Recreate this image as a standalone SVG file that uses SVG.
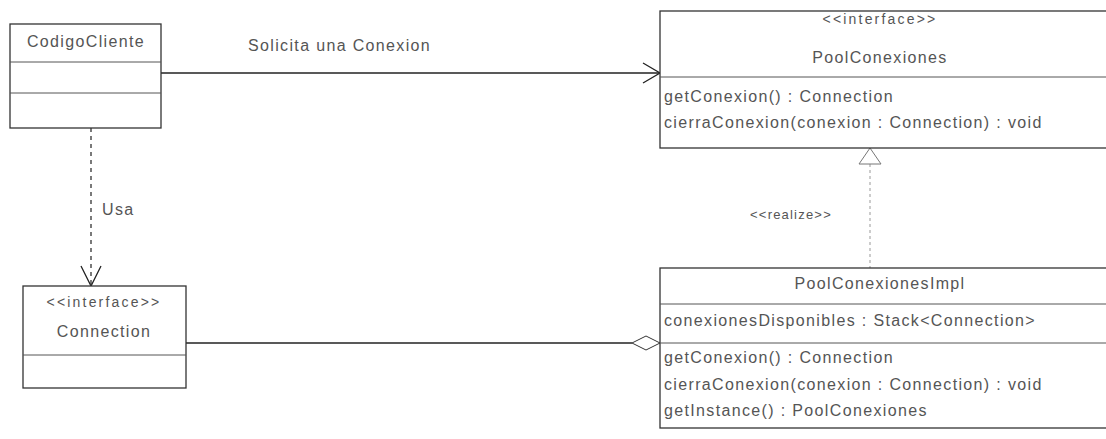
<svg xmlns="http://www.w3.org/2000/svg" width="1106" height="439" viewBox="0 0 1106 439">
<style>
.box{fill:#fff;stroke:#333;stroke-width:1.3}
.div{stroke:#555;stroke-width:1}
.t{font-family:"Liberation Sans",Arial,sans-serif;font-size:16px;fill:#555;letter-spacing:1.35px}
.s{font-family:"Liberation Sans",Arial,sans-serif;font-size:14px;fill:#555;letter-spacing:2.2px}
.r{font-family:"Liberation Sans",Arial,sans-serif;font-size:13px;fill:#555;letter-spacing:1.2px}
.c{text-anchor:middle}
.ln{fill:none;stroke:#222;stroke-width:1.3}
.dash{fill:none;stroke:#333;stroke-width:1.3;stroke-dasharray:4 4}
.dash2{fill:none;stroke:#999;stroke-width:1;stroke-dasharray:3 3}
</style>
<rect width="1106" height="439" fill="#fff"/>
<g id="connectors">
  <g id="solicita">
    <line class="ln" x1="161" y1="73" x2="660" y2="73"/>
    <polyline class="ln" points="643,63 660,73 643,83"/>
    <text class="t" x="248" y="51">Solicita una Conexion</text>
  </g>
  <g id="usa">
    <line class="dash" x1="91" y1="128" x2="91" y2="286"/>
    <polyline class="ln" points="81,266 91,286 101,266"/>
    <text class="t" x="102" y="215">Usa</text>
  </g>
  <g id="realize">
    <line class="dash2" x1="870" y1="164" x2="870" y2="268"/>
    <polygon points="870,148 859,164 881,164" fill="#fff" stroke="#777" stroke-width="1"/>
    <text class="r c" x="791" y="219">&lt;&lt;realize&gt;&gt;</text>
  </g>
  <g id="aggregation">
    <line class="ln" x1="186" y1="343" x2="632" y2="343"/>
    <polygon points="632,343 646,336 660,343 646,350" fill="#fff" stroke="#333" stroke-width="1"/>
  </g>
</g>
<g id="CodigoCliente">
  <rect class="box" x="10" y="24" width="151" height="104"/>
  <line class="div" x1="10" y1="62" x2="161" y2="62"/>
  <line class="div" x1="10" y1="93" x2="161" y2="93"/>
  <text class="t c" x="86" y="47">CodigoCliente</text>
</g>
<g id="Connection">
  <rect class="box" x="23" y="286" width="163" height="102"/>
  <line class="div" x1="23" y1="355" x2="186" y2="355"/>
  <text class="s c" x="104" y="307">&lt;&lt;interface&gt;&gt;</text>
  <text class="t c" x="104" y="337">Connection</text>
</g>
<g id="PoolConexiones">
  <rect class="box" x="660" y="11" width="460" height="137"/>
  <line class="div" x1="660" y1="77" x2="1106" y2="77"/>
  <text class="s c" x="880" y="24">&lt;&lt;interface&gt;&gt;</text>
  <text class="t c" x="880" y="63">PoolConexiones</text>
  <text class="t" x="664" y="102">getConexion() : Connection</text>
  <text class="t" x="664" y="128">cierraConexion(conexion : Connection) : void</text>
</g>
<g id="PoolConexionesImpl">
  <rect class="box" x="660" y="268" width="460" height="160"/>
  <line class="div" x1="660" y1="304" x2="1106" y2="304"/>
  <line class="div" x1="660" y1="343" x2="1106" y2="343"/>
  <text class="t c" x="880" y="289">PoolConexionesImpl</text>
  <text class="t" x="664" y="326">conexionesDisponibles : Stack&lt;Connection&gt;</text>
  <text class="t" x="664" y="363">getConexion() : Connection</text>
  <text class="t" x="664" y="390">cierraConexion(conexion : Connection) : void</text>
  <text class="t" x="664" y="416">getInstance() : PoolConexiones</text>
</g>
</svg>
